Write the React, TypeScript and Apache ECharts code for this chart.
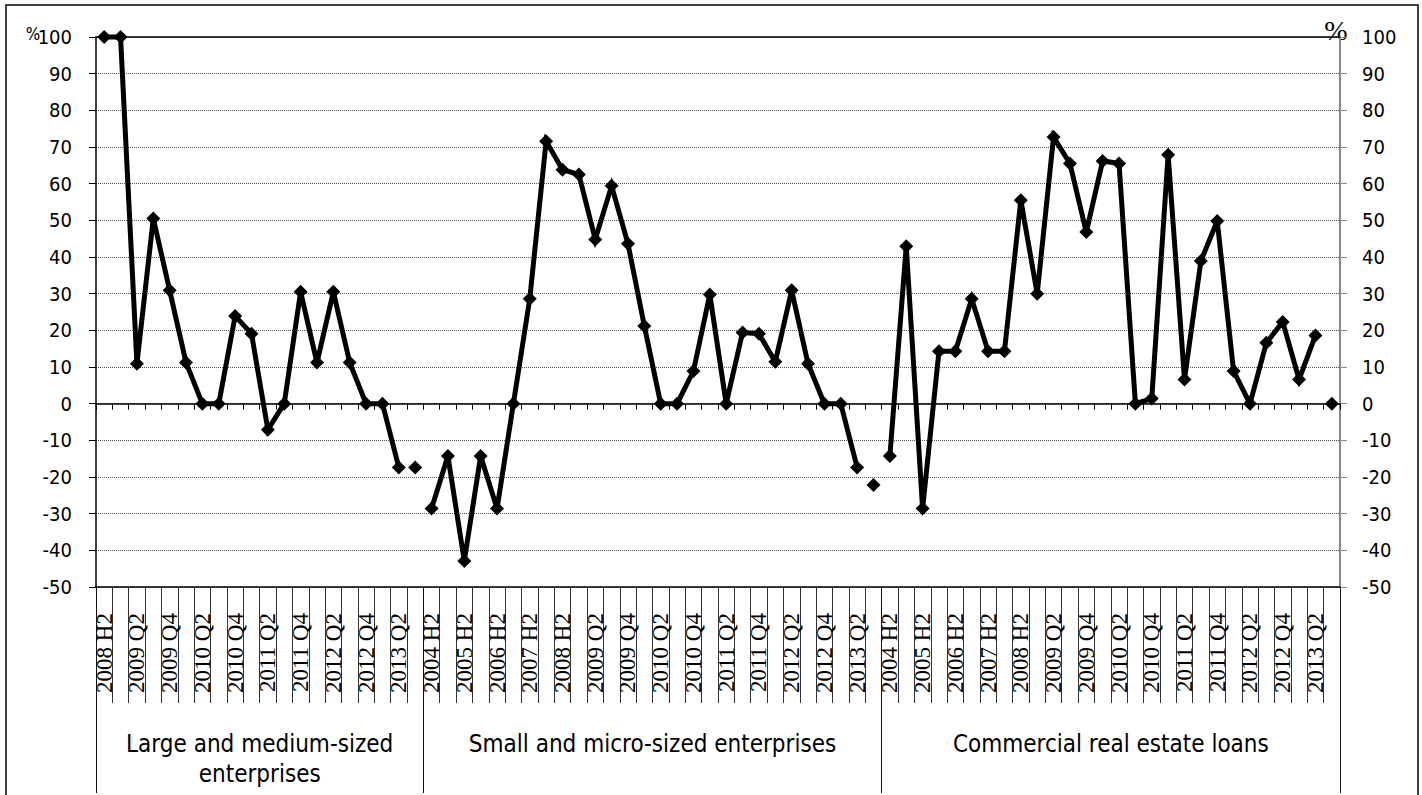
import React, { useEffect, useRef } from "react";
import * as echarts from "echarts";

// Category labels per group
const largeMediumCategories = [
  "2008 H2", "2009 Q1", "2009 Q2", "2009 Q3", "2009 Q4",
  "2010 Q1", "2010 Q2", "2010 Q3", "2010 Q4",
  "2011 Q1", "2011 Q2", "2011 Q3", "2011 Q4",
  "2012 Q1", "2012 Q2", "2012 Q3", "2012 Q4",
  "2013 Q1", "2013 Q2", "2013 Q3",
];
const longCategories = [
  "2004 H2", "2005 H1", "2005 H2", "2006 H1", "2006 H2",
  "2007 H1", "2007 H2", "2008 H1", "2008 H2",
  "2009 Q1", "2009 Q2", "2009 Q3", "2009 Q4",
  "2010 Q1", "2010 Q2", "2010 Q3", "2010 Q4",
  "2011 Q1", "2011 Q2", "2011 Q3", "2011 Q4",
  "2012 Q1", "2012 Q2", "2012 Q3", "2012 Q4",
  "2013 Q1", "2013 Q2", "2013 Q3",
];

const groupNames = [
  "Large and medium-sized\nenterprises",
  "Small and micro-sized enterprises",
  "Commercial real estate loans",
];

// Values (%); the last value of each group is shown as an unconnected point
const largeMediumValues = [
  100, 100, 10.9, 50.5, 30.9, 11.2, 0, 0, 23.9, 19.1,
  -7.1, 0, 30.5, 11.2, 30.5, 11.2, 0, 0, -17.4, -17.4,
];
const smallMicroValues = [
  -28.6, -14.3, -42.9, -14.3, -28.6, 0, 28.6, 71.6, 63.8, 62.5,
  44.8, 59.4, 43.6, 21.2, 0, 0, 8.9, 29.8, 0, 19.4,
  19.1, 11.4, 30.9, 10.9, 0, 0, -17.4, -22.2,
];
const commercialRealEstateValues = [
  -14.3, 42.9, -28.6, 14.3, 14.3, 28.6, 14.3, 14.3, 55.5, 30.0,
  72.7, 65.5, 46.8, 66.2, 65.5, 0, 1.4, 67.9, 6.6, 38.9,
  49.8, 8.9, 0, 16.6, 22.3, 6.6, 18.6, 0,
];

const yTicks = { min: -50, max: 100, interval: 10 };

const groups = [largeMediumValues, smallMicroValues, commercialRealEstateValues];
const groupCats = [largeMediumCategories, longCategories, longCategories];

export default function App() {
  const ref = useRef<HTMLDivElement>(null);

  useEffect(() => {
    if (!ref.current) return;
    const chart = echarts.init(ref.current, null, { renderer: "svg" });

    const categories: string[] = [];
    groupCats.forEach((c) => categories.push(...c));
    const total = categories.length;

    // group boundaries (in category units)
    const bounds: number[] = [0];
    groupCats.forEach((c) => bounds.push(bounds[bounds.length - 1] + c.length));
    const centers = groupCats.map((_, i) => (bounds[i] + bounds[i + 1]) / 2);

    const lineSeries: any[] = [];
    const latest: (number | null)[] = new Array(total).fill(null);
    groups.forEach((vals, gi) => {
      const arr: (number | null)[] = new Array(total).fill(null);
      vals.forEach((v, i) => {
        if (i < vals.length - 1) arr[bounds[gi] + i] = v;
        else latest[bounds[gi] + i] = v;
      });
      lineSeries.push({
        type: "line",
        data: arr,
        xAxisIndex: 0,
        yAxisIndex: 0,
        symbol: "diamond",
        symbolSize: 14,
        showSymbol: true,
        showAllSymbol: true,
        clip: false,
        connectNulls: false,
        lineStyle: { color: "#000", width: 5, join: "miter" },
        itemStyle: { color: "#000" },
        z: 5,
      });
    });
    lineSeries.push({
      type: "line",
      data: latest,
      xAxisIndex: 0,
      yAxisIndex: 0,
      symbol: "diamond",
      symbolSize: 14,
      showSymbol: true,
      showAllSymbol: true,
      clip: false,
      lineStyle: { width: 0 },
      itemStyle: { color: "#000" },
      z: 5,
    });

    const sansFont = "'DejaVu Sans Condensed', 'DejaVu Sans', sans-serif";
    const serifFont = "'Liberation Serif', 'DejaVu Serif', serif";

    const option: any = {
      animation: false,
      backgroundColor: "#fff",
      grid: { left: 96, right: 82, top: 37, bottom: 208, containLabel: false },
      xAxis: [
        {
          type: "category",
          data: categories,
          boundaryGap: true,
          position: "bottom",
          axisLine: { onZero: true, lineStyle: { color: "#000", width: 1.5 } },
          axisTick: { show: true, interval: 0, length: 6, inside: false, lineStyle: { color: "#000" } },
          axisLabel: { show: false },
          splitLine: { show: false },
        },
        {
          type: "category",
          data: categories,
          boundaryGap: true,
          position: "bottom",
          axisLine: { onZero: false, lineStyle: { color: "#000", width: 1.5 } },
          axisTick: { show: true, interval: 0, length: 116, lineStyle: { color: "#333", width: 1 } },
          axisLabel: {
            show: true,
            interval: 1,
            rotate: 90,
            margin: 26,
            color: "#000",
            fontFamily: serifFont,
            fontSize: 23,
          },
          splitLine: { show: false },
        },
        {
          type: "value",
          min: 0,
          max: total,
          position: "bottom",
          axisLine: { show: false, onZero: false },
          axisTick: {
            show: true,
            customValues: bounds,
            length: 206,
            lineStyle: { color: "#111", width: 1 },
          },
          axisLabel: {
            show: true,
            customValues: centers,
            margin: 142,
            color: "#000",
            fontFamily: sansFont,
            fontSize: 24,
            lineHeight: 30,
            align: "center",
            verticalAlign: "top",
            formatter: (v: number) => {
              const i = centers.findIndex((c) => Math.abs(c - v) < 0.01);
              return i >= 0 ? groupNames[i] : "";
            },
          },
          splitLine: { show: false },
        },
        {
          type: "category",
          data: categories,
          position: "top",
          axisLine: { show: true, onZero: false, lineStyle: { color: "#000", width: 1.5 } },
          axisTick: { show: false },
          axisLabel: { show: false },
          splitLine: { show: false },
        },
      ],
      yAxis: [
        {
          type: "value",
          position: "left",
          min: yTicks.min,
          max: yTicks.max,
          interval: yTicks.interval,
          name: "%",
          nameLocation: "end",
          nameGap: 3,
          nameMoveOverlap: false,
          nameTextStyle: {
            fontFamily: sansFont,
            fontSize: 17,
            color: "#000",
            align: "center",
            verticalAlign: "middle",
            padding: [0, 126, 0, 0],
          },
          axisLine: { show: true, lineStyle: { color: "#000", width: 1.5 } },
          axisTick: { show: true, length: 7, lineStyle: { color: "#000" } },
          axisLabel: { margin: 24, color: "#000", fontFamily: sansFont, fontSize: 20 },
          splitLine: { show: true, lineStyle: { color: "#555", type: [1, 1], width: 1 } },
        },
        {
          type: "value",
          position: "right",
          min: yTicks.min,
          max: yTicks.max,
          interval: yTicks.interval,
          name: "%",
          nameLocation: "end",
          nameGap: 7,
          nameMoveOverlap: false,
          nameTextStyle: {
            fontFamily: serifFont,
            fontSize: 28,
            color: "#000",
            align: "center",
            verticalAlign: "middle",
            padding: [0, 8, 0, 0],
          },
          axisLine: { show: true, lineStyle: { color: "#888", width: 2 } },
          axisTick: { show: true, length: 7, lineStyle: { color: "#888" } },
          axisLabel: { margin: 22, color: "#000", fontFamily: sansFont, fontSize: 20 },
          splitLine: { show: false },
        },
      ],
      graphic: [
        {
          type: "rect",
          shape: { x: 6, y: 5, width: 1412, height: 800 },
          style: { fill: "none", stroke: "#000", lineWidth: 1.5 },
          silent: true,
          z: 100,
        },
      ],
      series: lineSeries,
    };

    chart.setOption(option);
    return () => chart.dispose();
  }, []);

  return (
    <div
      ref={ref}
      style={{ position: "absolute", left: 0, top: 0, width: 1422, height: 795 }}
    />
  );
}
